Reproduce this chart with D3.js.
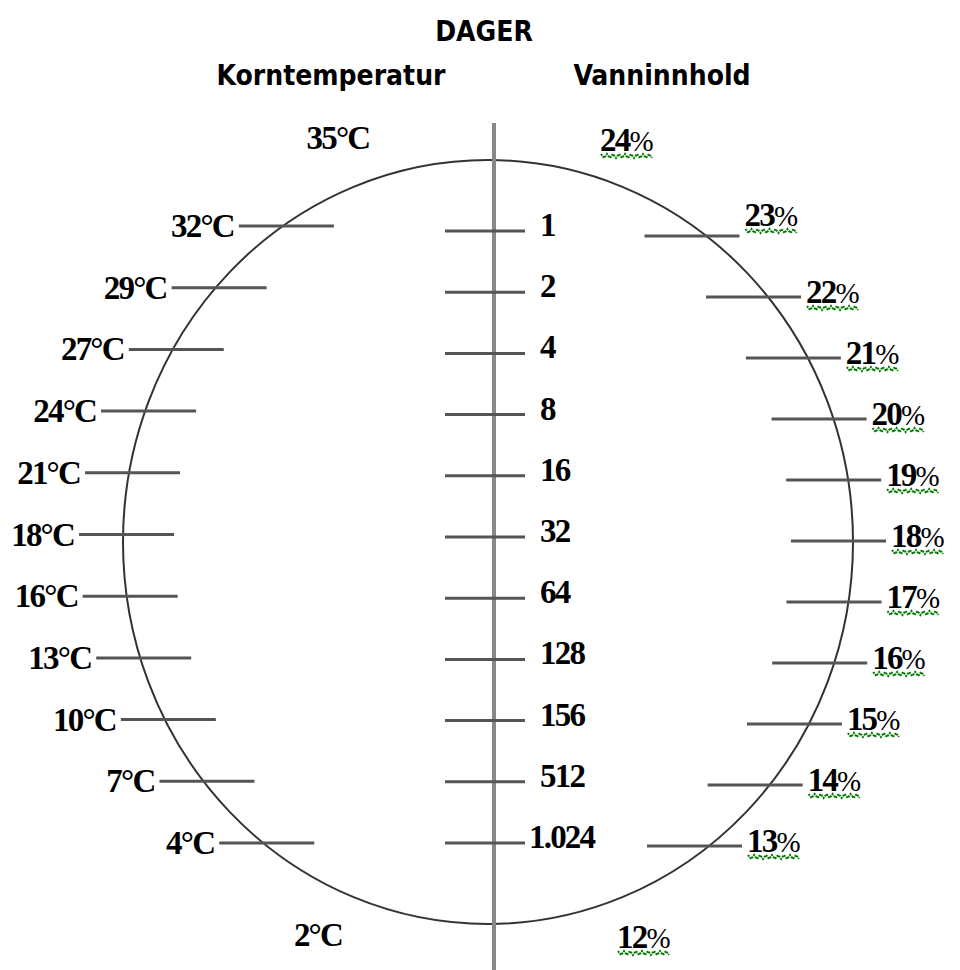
<!DOCTYPE html>
<html>
<head>
<meta charset="utf-8">
<script src="https://cdn.jsdelivr.net/npm/d3@7"></script>
<style>
  body { margin: 0; background: #fff; }
  .title { font-family: "DejaVu Sans Condensed", "DejaVu Sans", sans-serif; font-weight: bold; font-size: 28px; }
  .lbl { font-family: "Liberation Serif", "Times New Roman", serif; font-weight: bold; font-size: 33px; letter-spacing: -1.8px; }
</style>
</head>
<body>
<div id="chart"></div>
<script>
// Scale labels (top to bottom)
var days = ["1", "2", "4", "8", "16", "32", "64", "128", "156", "512", "1.024"];
var temps = ["32°C", "29°C", "27°C", "24°C", "21°C", "18°C", "16°C", "13°C", "10°C", "7°C", "4°C"];
var moist = ["23", "22", "21", "20", "19", "18", "17", "16", "15", "14", "13"];
var tempEnds = ["35°C", "2°C"];
var moistEnds = ["24", "12"];

var width = 960, height = 970;
var cx = 488, cy = 542, rx = 365, ry = 382;
var axisX = 494;

var svg = d3.select("#chart")
  .append("svg")
    .attr("width", width)
    .attr("height", height);

svg.append("rect").attr("width", width).attr("height", height).attr("fill", "#fff");

// Titles
svg.append("text").attr("class", "title")
  .attr("x", 484).attr("y", 41)
  .attr("text-anchor", "middle").text("DAGER");
svg.append("text").attr("class", "title")
  .attr("x", 331).attr("y", 85)
  .attr("text-anchor", "middle").text("Korntemperatur");
svg.append("text").attr("class", "title")
  .attr("x", 662).attr("y", 85)
  .attr("text-anchor", "middle").text("Vanninnhold");

// y scales for the three scales of the nomogram
var yTemp = d3.scalePoint().domain(temps).range([226, 843]);
var yDays = d3.scalePoint().domain(days).range([231, 843]);
var yMoist = d3.scalePoint().domain(moist).range([236, 846]);

function edgeX(y, side) {
  var t = (y - cy) / ry;
  return cx + side * rx * Math.sqrt(Math.max(0, 1 - t * t));
}

// circle
svg.append("ellipse")
  .attr("cx", cx).attr("cy", cy)
  .attr("rx", rx).attr("ry", ry)
  .attr("fill", "none")
  .attr("stroke", "#333")
  .attr("stroke-width", 2);

// middle axis
svg.append("line")
  .attr("x1", axisX).attr("x2", axisX)
  .attr("y1", 123).attr("y2", height)
  .attr("stroke", "#888")
  .attr("stroke-width", 4);

var tickColor = "#555";

// Days ticks
svg.selectAll(".dtick")
  .data(days)
  .enter().append("line")
    .attr("class", "dtick")
    .attr("x1", axisX - 49).attr("x2", axisX + 31)
    .attr("y1", function(d) { return yDays(d); })
    .attr("y2", function(d) { return yDays(d); })
    .attr("stroke", tickColor).attr("stroke-width", 3);

svg.selectAll(".dlbl")
  .data(days)
  .enter().append("text")
    .attr("class", "lbl dlbl")
    .attr("x", function(d) { return d.length > 4 ? 529 : 540; })
    .attr("y", function(d) { return yDays(d) + 5; })
    .text(function(d) { return d; });

// Temperature ticks (left)
svg.selectAll(".ttick")
  .data(temps)
  .enter().append("line")
    .attr("class", "ttick")
    .attr("x1", function(d) { return edgeX(yTemp(d), -1) - 44; })
    .attr("x2", function(d) { return edgeX(yTemp(d), -1) + 51; })
    .attr("y1", function(d) { return yTemp(d); })
    .attr("y2", function(d) { return yTemp(d); })
    .attr("stroke", tickColor).attr("stroke-width", 3);

svg.selectAll(".tlbl")
  .data(temps)
  .enter().append("text")
    .attr("class", "lbl tlbl")
    .attr("text-anchor", "end")
    .attr("x", function(d) { return edgeX(yTemp(d), -1) - 49; })
    .attr("y", function(d) { return yTemp(d) + 11; })
    .text(function(d) { return d; });

// Moisture ticks (right)
svg.selectAll(".mtick")
  .data(moist)
  .enter().append("line")
    .attr("class", "mtick")
    .attr("x1", function(d) { return edgeX(yMoist(d), 1) - 62; })
    .attr("x2", function(d) { return edgeX(yMoist(d), 1) + 33; })
    .attr("y1", function(d) { return yMoist(d); })
    .attr("y2", function(d) { return yMoist(d); })
    .attr("stroke", tickColor).attr("stroke-width", 3);

function pct(sel) {
  sel.append("tspan").text(function(d) { return d; });
  sel.append("tspan").attr("font-weight", "normal").attr("font-size", "29px").text("%");
}

svg.selectAll(".mlbl")
  .data(moist)
  .enter().append("text")
    .attr("class", "lbl mlbl")
    .attr("x", function(d) { return edgeX(yMoist(d), 1) + 38; })
    .attr("y", function(d) { return yMoist(d) + (d === "23" ? -10 : 6); })
    .call(pct);

// end labels at the top and bottom of the circle
svg.append("text").attr("class", "lbl")
  .attr("x", cx - 150).attr("y", cy - ry - 11)
  .attr("text-anchor", "middle").text(tempEnds[0]);
svg.append("text").attr("class", "lbl")
  .attr("x", cx - 170).attr("y", cy + ry + 22)
  .attr("text-anchor", "middle").text(tempEnds[1]);

svg.selectAll(".mend")
  .data(moistEnds)
  .enter().append("text")
    .attr("class", "lbl mend")
    .attr("x", function(d, i) { return i === 0 ? cx + 112 : cx + 129; })
    .attr("y", function(d, i) { return i === 0 ? cy - ry - 9 : cy + ry + 24; })
    .call(pct);

// green wavy underline under the moisture labels
svg.selectAll(".mlbl, .mend").each(function() {
  var b = this.getBBox();
  var y0 = +d3.select(this).attr("y") + 3;
  var pts = [];
  for (var x = b.x + 1, k = 0; x <= b.x + b.width; x += 3, k++) {
    pts.push([x, y0 + (k % 2 ? 4 : 0)]);
  }
  svg.append("path")
    .attr("d", d3.line()(pts))
    .attr("fill", "none")
    .attr("stroke", "#007a00")
    .attr("stroke-width", 2)
    .attr("stroke-dasharray", "2,1");
});
</script>
</body>
</html>
